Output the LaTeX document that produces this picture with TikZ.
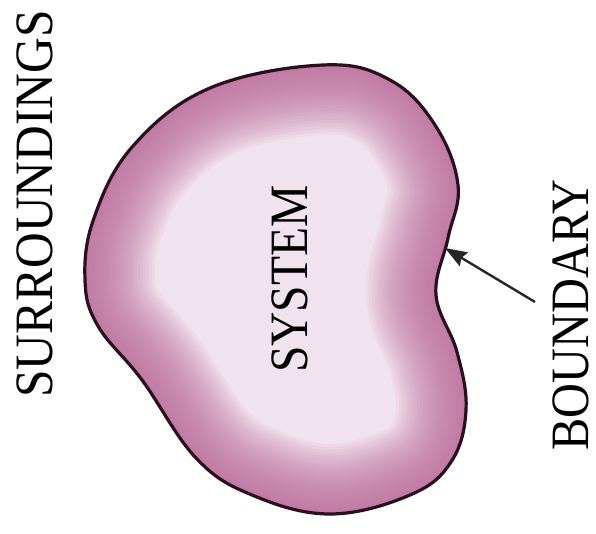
\documentclass[tikz,border=0pt]{standalone}
\usepackage{fontspec}
\setmainfont{Liberation Serif}
\usetikzlibrary{arrows.meta}
\definecolor{edgepink}{HTML}{BE6E9C}
\definecolor{lightpink}{HTML}{F1E3EE}
\definecolor{outline}{HTML}{2A0F1E}
\def\blobpath{plot[smooth cycle, tension=0.65] coordinates {(323,65) (390,80) (435,125) (458,185) (448,238) (436,295) (457,352) (466,410) (451,462) (410,495) (330,514) (252,495) (196,458) (142,380) (98,326) (85,280) (94,218) (133,146) (210,88)}}
\tikzset{
  lbl/.style={inner sep=0pt, rotate=90, text=black, font=\fontsize{54}{60}\selectfont},
  bnd/.style={draw=outline, line width=3.2pt, line join=round},
  pointer/.style={draw=black!85, line width=2.4pt, -{Stealth[length=22pt,width=16pt,inset=3pt]}}
}
\begin{document}
\begin{tikzpicture}[x=1pt,y=-1pt]
\useasboundingbox (0,0) rectangle (596,534);
\begin{scope}
  \clip \blobpath;
  \fill[lightpink] (0,0) rectangle (596,534);
  \foreach \w in {140,134,...,8} {
    \draw[edgepink, line width=\w pt, opacity=0.075] \blobpath;
  }
\end{scope}
\draw[bnd] \blobpath;
\node[lbl] (surr) at (35,204) {\scalebox{0.915}[1]{SURROUNDINGS}};
\node[lbl] (sys) at (290,279) {\scalebox{0.88}[1]{SYSTEM}};
\node[lbl] (bound) at (571,315) {\scalebox{0.895}[1]{BOUNDARY}};
\coordinate (tail) at (535,302);
\coordinate (tip) at (445,248);
\draw[pointer] (tail) -- (tip);
\end{tikzpicture}
\end{document}
